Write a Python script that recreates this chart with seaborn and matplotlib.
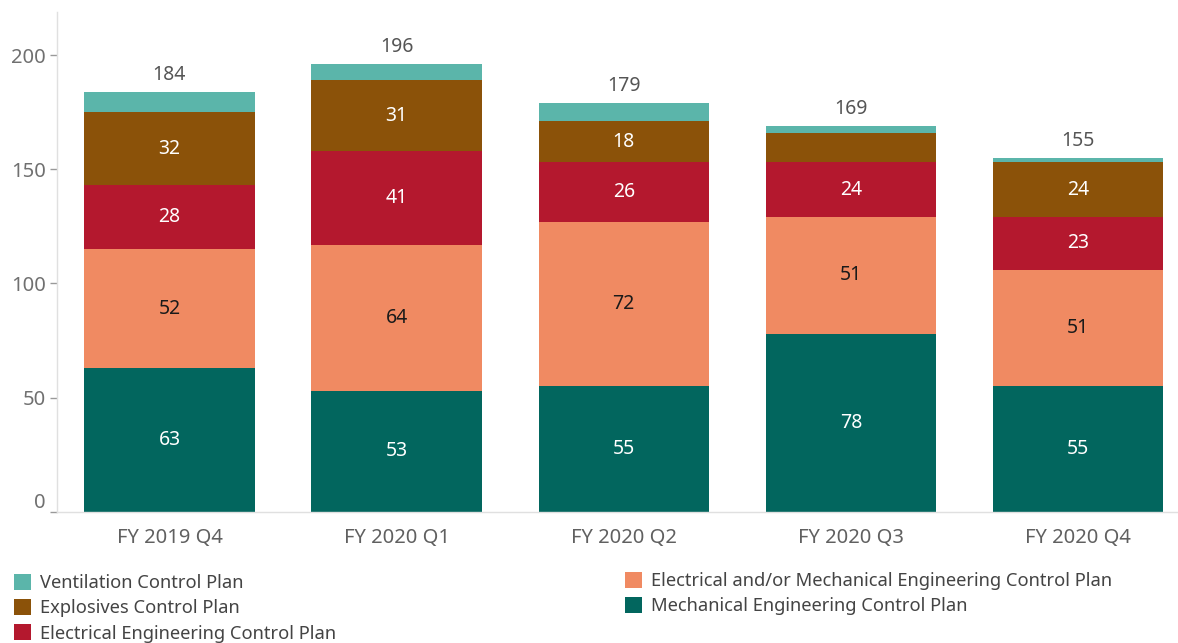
import numpy as np
import pandas as pd
import matplotlib
matplotlib.use("Agg")
import matplotlib.pyplot as plt
import matplotlib.transforms as mtransforms
import seaborn as sns

quarters = ["FY 2019 Q4", "FY 2020 Q1", "FY 2020 Q2", "FY 2020 Q3", "FY 2020 Q4"]
mechanical = [63, 53, 55, 78, 55]
elec_mech = [52, 64, 72, 51, 51]
electrical = [28, 41, 26, 24, 23]
explosives = [32, 31, 18, 13, 24]
ventilation = [9, 7, 8, 3, 2]

# stacking order, bottom to top
layers = [
    ("Mechanical Engineering Control Plan", mechanical, "#02665e", "white"),
    ("Electrical and/or Mechanical Engineering Control Plan", elec_mech, "#f08a62", "#1a1a1a"),
    ("Electrical Engineering Control Plan", electrical, "#b4182e", "white"),
    ("Explosives Control Plan", explosives, "#8b5209", "white"),
    ("Ventilation Control Plan", ventilation, "#5bb5aa", "white"),
]

sns.set_theme(style="white")
plt.rcParams["font.family"] = ["Noto Sans", "DejaVu Sans"]

fig = plt.figure(figsize=(11.78, 6.43), dpi=100)
ax = fig.add_axes([57 / 1178, 1 - 511.7 / 643, (1178 - 57) / 1178, 500 / 643])

df = pd.DataFrame({"quarter": quarters})
cum = np.zeros(len(quarters))
cums = []
for name, vals, color, tcolor in layers:
    bottom = cum.copy()
    cum = cum + np.array(vals)
    cums.append((name, bottom, cum.copy(), vals, color, tcolor))

# draw cumulative totals from the top layer down so each layer covers the ones above
for name, bottom, top, vals, color, tcolor in reversed(cums):
    d = df.assign(value=top)
    sns.barplot(data=d, x="quarter", y="value", color=color, width=0.75,
                saturation=1, label=name, ax=ax, edgecolor="none", linewidth=0)

# segment value labels
for name, bottom, top, vals, color, tcolor in cums:
    for i, v in enumerate(vals):
        if v >= 15:
            ax.text(i, bottom[i] + v / 2, f"{v}", ha="center", va="center",
                    fontsize=14, color=tcolor)

# totals above each bar
totals = cums[-1][2]
for i, t in enumerate(totals):
    ax.text(i, t + 3, f"{int(t)}", ha="center", va="bottom", fontsize=14, color="#555555")

ax.set_xlim(-0.495, 4.44)
ax.set_ylim(0, 219)
ax.set_yticks([0, 50, 100, 150, 200])
ax.set_xlabel("")
ax.set_ylabel("")
for s in ["top", "right"]:
    ax.spines[s].set_visible(False)
for s in ["left", "bottom"]:
    ax.spines[s].set_color("#e0e0e0")
    ax.spines[s].set_linewidth(1)
ax.tick_params(axis="y", which="both", left=True, length=5, width=1, color="#999999",
               labelsize=14.5, labelcolor="#707070", pad=3)
ax.tick_params(axis="x", bottom=False, labelsize=14.5, labelcolor="#606060", pad=6)

# nudge the zero label up so it sits inside the plot area
ylabels = ax.get_yticklabels()
offset = mtransforms.ScaledTranslation(0, 11 / 100, fig.dpi_scale_trans)
ylabels[0].set_transform(ylabels[0].get_transform() + offset)

handles, labels = ax.get_legend_handles_labels()
lookup = dict(zip(labels, handles))
left_names = ["Ventilation Control Plan", "Explosives Control Plan", "Electrical Engineering Control Plan"]
right_names = ["Electrical and/or Mechanical Engineering Control Plan", "Mechanical Engineering Control Plan"]

leg_kw = dict(frameon=False, fontsize=13.2, handlelength=0.95, handleheight=0.95,
              handletextpad=0.45, labelspacing=0.38, borderaxespad=0, borderpad=0,
              labelcolor="#444444")
leg1 = fig.legend([lookup[n] for n in left_names], left_names,
                  loc="upper left", bbox_to_anchor=(14 / 1178, 1 - 574 / 643), **leg_kw)
leg2 = fig.legend([lookup[n] for n in right_names], right_names,
                  loc="upper left", bbox_to_anchor=(625 / 1178, 1 - 572 / 643), **leg_kw)
if ax.get_legend() is not None:
    ax.get_legend().remove()

fig.savefig("out.png", dpi=100)
